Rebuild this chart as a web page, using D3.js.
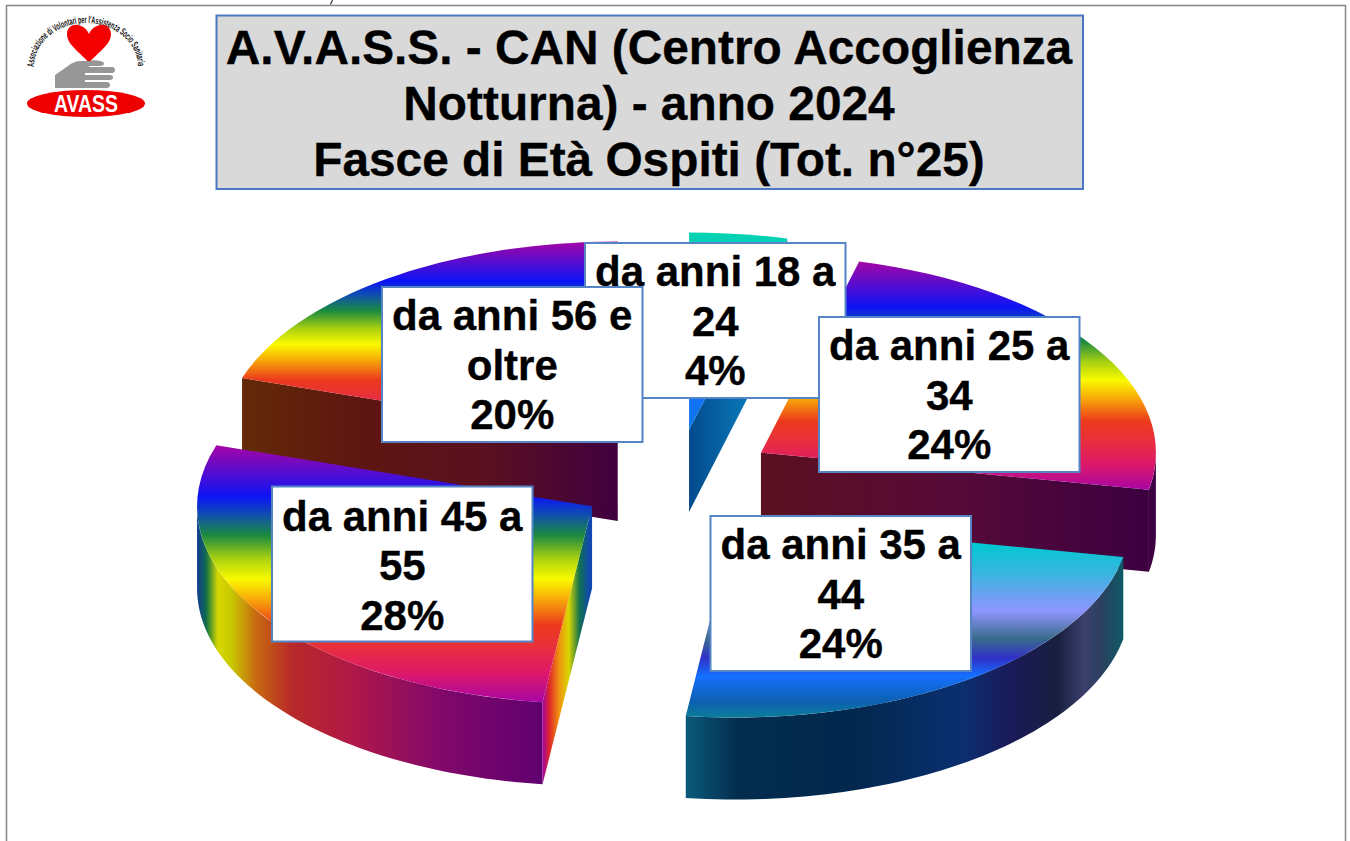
<!DOCTYPE html>
<html><head><meta charset="utf-8">
<script src="https://cdn.jsdelivr.net/npm/d3@7"></script>
<style>html,body{margin:0;padding:0;background:#fff}svg{display:block}
text{font-family:"Liberation Sans",Arial,Helvetica,sans-serif}</style></head>
<body><svg id="c" width="1350" height="841"></svg>
<script>
// ---- data ----
const categories=["da anni 18 a 24","da anni 25 a 34","da anni 35 a 44","da anni 45 a 55","da anni 56 e oltre"];
const shares=[4,24,24,28,20];
const labelLines=[["da anni 18 a","24","4%"],["da anni 25 a","34","24%"],["da anni 35 a","44","24%"],["da anni 45 a","55","28%"],["da anni 56 e","oltre","20%"]];
const titleLines=["A.V.A.S.S. - CAN (Centro Accoglienza","Notturna) - anno 2024","Fasce di Età Ospiti (Tot. n°25)"];
const logoRing="Associazione di Volontari per l'Assistenza Socio Sanitaria";

// ---- layout ----
const cx=676.5,cy=479.5,rx=395,tilt=0.5,explode=100,depth=82;
const labelBoxes=[[585,243],[819,317],[710.5,516],[272,486.5],[382,287]];
const labelDy=[43,43,43,44,43];
const boxW=260.5,boxH=155;
const drawOrder=[4,0,1,3,2];

// ---- styles ----
const rainbowStops=[[0,"#a505a5"],[.2,"#0c14f5"],[.27,"#0f4fb0"],[.35,"#1a8a40"],[.44,"#a8d010"],[.52,"#fafa00"],[.6,"#f8a808"],[.7,"#ec3a1c"],[.78,"#e8303a"],[.88,"#e01a66"],[1,"#a805a5"]];
const topStops=[rainbowStops,
 [[0,"#02d4ae"],[.12,"#12c4c8"],[.3,"#50a8e0"],[.46,"#8f95ff"],[.6,"#3b6c8c"],[.7,"#3030c8"],[.8,"#1470ff"],[1,"#0a78e0"]],
 [[0,"#00d0d0"],[.12,"#00c8d2"],[.26,"#34b6de"],[.46,"#8f95ff"],[.6,"#3b6c8c"],[.7,"#3030c8"],[.79,"#1470ff"],[.92,"#0d60b0"],[1,"#0b7d9a"]]];
const topStyle=[1,0,2,0,0];
const outerStops=[
 [[0,"#006080"],[1,"#006080"]],
 [[0,"#400040"],[.8,"#3c0040"],[1,"#4a0a50"]],
 [[0,"#0b5a7a"],[.12,"#032d4e"],[.38,"#02284d"],[.63,"#0a2f70"],[.74,"#1a1a5a"],[.85,"#18203f"],[.91,"#3b3f6c"],[.95,"#2b4060"],[1,"#0d5a66"]],
 [[0,"#103a90"],[.025,"#0f6a50"],[.035,"#3c8a30"],[.06,"#d8d800"],[.1,"#c8c800"],[.17,"#c86a10"],[.27,"#b82a28"],[.45,"#b01848"],[.7,"#82086a"],[1,"#600070"]],
 [[0,"#400040"],[1,"#400040"]]];
const cutStops={
 "0e":[[0,"#024a8c"],[.6,"#0a78b8"],[1,"#10a0b0"]],
 "1e":[[0,"#5c1020"],[.5,"#560a38"],[1,"#3c0040"]],
 "3s":[[0,"#a005a0"],[.14,"#e02828"],[.33,"#f09010"],[.53,"#d8d800"],[.75,"#107050"],[.95,"#1048b0"],[1,"#1048b0"]],
 "4s":[[0,"#642a08"],[.3,"#5e1610"],[.65,"#5a1020"],[1,"#400040"]]};

const svg=d3.select("#c");
const defs=svg.append("defs");
const grad=(id,stops,vertical)=>{
  const g=defs.append("linearGradient").attr("id",id).attr("x1",0).attr("y1",0).attr("x2",vertical?0:1).attr("y2",vertical?1:0);
  stops.forEach(s=>g.append("stop").attr("offset",s[0]).attr("stop-color",s[1]));
  return `url(#${id})`;
};

// page frame
svg.append("rect").attr("x",6.5).attr("y",5.5).attr("width",1339).attr("height",860).attr("fill","#fff").attr("stroke","#8c8c8c").attr("stroke-width",1.6);
svg.append("path").attr("d","M332.5 0 L330.5 4.5").attr("stroke","#333").attr("stroke-width",1.2).attr("fill","none");

// ---- pie ----
const pie=d3.pie().sort(null).value(d=>d)(shares);
const arc=d3.arc().innerRadius(0).outerRadius(rx);
const pt=(a,r,ox,oy,dz=0)=>[ox+r*Math.sin(a),oy-r*tilt*Math.cos(a)+dz];
const line=d3.line();
const PI=Math.PI;
const pieLayer=svg.append("g");
drawOrder.forEach(i=>{
  const p=pie[i],mid=(p.startAngle+p.endAngle)/2;
  const [ox,oy]=pt(mid,explode,cx,cy);
  const g=pieLayer.append("g");
  const a0=Math.max(p.startAngle,PI/2),a1=Math.min(p.endAngle,3*PI/2);
  if(a1>a0){
    const as=d3.range(0,61).map(k=>a0+(a1-a0)*k/60);
    const poly=as.map(a=>pt(a,rx,ox,oy)).concat(as.slice().reverse().map(a=>pt(a,rx,ox,oy,depth)));
    g.append("path").attr("d",line(poly)+"Z").attr("fill",grad("o"+i,outerStops[i],false));
  }
  const wall=(a,key)=>{
    const poly=[[ox,oy],pt(a,rx,ox,oy),pt(a,rx,ox,oy,depth),[ox,oy+depth]];
    const xs=poly.map(d=>d[0]),left=d3.min(xs),right=d3.max(xs);
    const gr=defs.append("linearGradient").attr("id","c"+key).attr("gradientUnits","userSpaceOnUse").attr("x1",left).attr("x2",right).attr("y1",0).attr("y2",0);
    cutStops[key].forEach(s=>gr.append("stop").attr("offset",s[0]).attr("stop-color",s[1]));
    g.append("path").attr("d",line(poly)+"Z").attr("fill",`url(#c${key})`);
  };
  if(Math.sin(p.startAngle)<0) wall(p.startAngle,i+"s");
  if(Math.sin(p.endAngle)>0&&p.endAngle<PI*2-.001) wall(p.endAngle,i+"e");
  g.append("path").attr("d",arc(p)).attr("transform",`translate(${ox},${oy}) scale(1,${tilt})`)
    .attr("fill",grad("t"+i,topStops[topStyle[i]],true));
});

// ---- labels ----
const lab=svg.append("g");
labelLines.forEach((ls,i)=>{
  const [x,y]=labelBoxes[i];
  lab.append("rect").attr("x",x).attr("y",y).attr("width",boxW).attr("height",boxH).attr("fill","#fff").attr("stroke","#5585c5").attr("stroke-width",2);
  ls.forEach((t,k)=>lab.append("text").attr("x",x+boxW/2).attr("y",y+labelDy[i]+k*49.5).attr("text-anchor","middle")
     .attr("font-size",42).attr("font-weight","bold").attr("fill","#000").attr("stroke","#000").attr("stroke-width",.35).text(t));
});

// ---- title ----
svg.append("rect").attr("x",216.5).attr("y",15.5).attr("width",866.5).attr("height",173.5).attr("fill","#d9d9d9").attr("stroke","#4a78c4").attr("stroke-width",2);
titleLines.forEach((t,k)=>svg.append("text").attr("x",649).attr("y",64+k*55.8).attr("text-anchor","middle")
  .attr("font-size",47.8).attr("font-weight","bold").attr("fill","#000").attr("stroke","#000").attr("stroke-width",.35).text(t));

// ---- logo ----
const logo=svg.append("g");
defs.append("path").attr("id","ring").attr("d","M34 67 A52 44 0 0 1 138 67");
logo.append("text").attr("font-size",10).attr("font-weight","bold").attr("fill","#111").attr("font-family","Liberation Sans Narrow, Liberation Sans")
  .append("textPath").attr("href","#ring").attr("textLength",150).attr("lengthAdjust","spacingAndGlyphs").text(logoRing);
logo.append("path").attr("d","M89 63 C80 52 67 45 67 34 C67 27 73 24 78 25 C83 26 87 29 89 34 C91 29 95 26 100 25 C105 24 111 27 111 34 C111 45 98 52 89 63Z").attr("fill","#f40000");
logo.append("path").attr("d","M55 88 V75 L68 66 C71 63 76 61 81 61 H90 C92 60 96 60 100 61 C106 62 105 66 100 66 H90 L88 67 H112 C116 67 116 73 112 73 H85 V75 H110 C114 75 114 80 110 80 H85 V82 H107 C111 82 111 88 107 88Z").attr("fill","#979797");
logo.append("ellipse").attr("cx",86).attr("cy",103.5).attr("rx",59).attr("ry",13.5).attr("fill","#ee0000");
logo.append("text").attr("x",86).attr("y",112).attr("text-anchor","middle").attr("font-size",23).attr("font-weight","bold").attr("fill","#fff").attr("font-family","Open Sans, Liberation Sans").attr("textLength",64).attr("lengthAdjust","spacingAndGlyphs").text("AVASS");
</script></body></html>
